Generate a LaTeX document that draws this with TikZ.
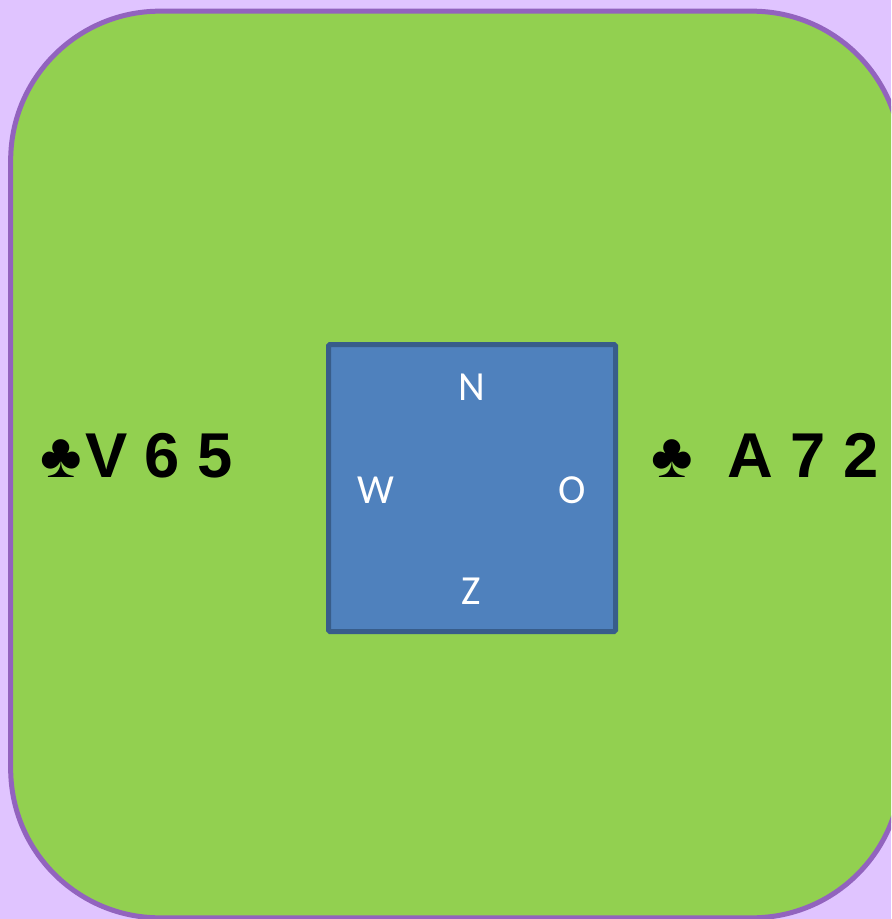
\documentclass[tikz,border=0pt]{standalone}
\usepackage{fontspec}
\setmainfont{Liberation Sans}
\newfontfamily\seatfont{Carlito}
\definecolor{backlilac}{HTML}{E0C4FF}
\definecolor{tablegreen}{HTML}{92D050}
\definecolor{tableedge}{HTML}{9263BE}
\definecolor{boardblue}{HTML}{4F81BD}
\definecolor{boardedge}{HTML}{385D8A}
\tikzset{
    tablebox/.style={draw=tableedge, fill=tablegreen, line width=3.75pt, rounded corners=112pt,
        minimum width=668pt, minimum height=680pt, inner sep=0pt},
    boardbox/.style={draw=boardedge, fill=boardblue, line width=3.75pt, rounded corners=1pt,
        minimum width=215.25pt, minimum height=215.25pt, inner sep=0pt},
    seat/.style={text=white, inner sep=0pt, anchor=base, font=\seatfont\fontsize{31}{36}\selectfont},
    hand/.style={text=black, inner sep=0pt, anchor=base west, font=\bfseries\fontsize{47.5}{58}\selectfont}
}
\begin{document}
\begin{tikzpicture}[x=0.75pt, y=-0.75pt]
    \useasboundingbox (0,0) rectangle (891,919);
    \fill[backlilac] (0,0) rectangle (891,919);
    \clip (0,0) rectangle (891,919);
    \node[tablebox] (table) at (456,464.5) {};
    \node[boardbox] (board) at (472,488) {};
    \node[seat] (north) at (471.5,400) {N};
    \node[seat] (west) at (375.5,503) {W};
    \node[seat] (east) at (572.5,503) {O};
    \node[seat] (south) at (471.5,604) {Z};
    \node[hand] (lefthand) at (40,477) {♣\hspace{2.5pt}V 6 5};
    \node[hand] (righthand) at (651,477) {♣\hspace{26pt}A 7 2};
\end{tikzpicture}
\end{document}
